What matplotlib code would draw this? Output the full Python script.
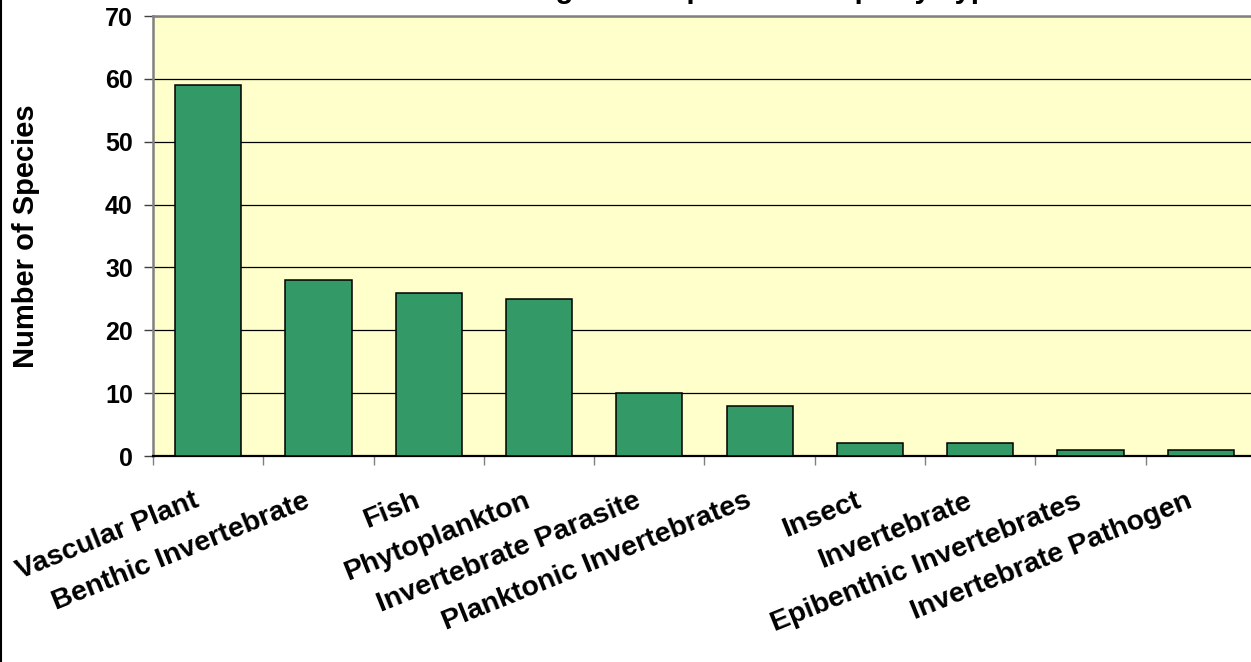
import matplotlib
matplotlib.use('Agg')
import matplotlib.pyplot as plt
import numpy as np
from matplotlib.lines import Line2D
from matplotlib.transforms import ScaledTranslation

plt.rcParams['font.family'] = ['Liberation Sans', 'DejaVu Sans']
plt.rcParams['font.weight'] = 'bold'

# data
categories = ['Vascular Plant', 'Benthic Invertebrate', 'Fish', 'Phytoplankton',
              'Invertebrate Parasite', 'Planktonic Invertebrates', 'Insect',
              'Invertebrate', 'Epibenthic Invertebrates', 'Invertebrate Pathogen']
counts = [59, 28, 26, 25, 10, 8, 2, 2, 1, 1]
yticks = [0, 10, 20, 30, 40, 50, 60, 70]
title = 'Nonindigenous Species Groups by Type'

fig = plt.figure(figsize=(12.51, 6.62), dpi=100)
ax = fig.add_axes([153 / 1251, 206 / 662, 1103 / 1251, 440 / 662])
ax.set_facecolor('#FFFFCC')

x = np.arange(len(categories))
ax.bar(x, counts, width=0.6, color='#339966', edgecolor='black', linewidth=1.1, zorder=3)

ax.set_xlim(-0.5, len(categories) - 0.5)
ax.set_ylim(0, 70)
ax.set_yticks(yticks)
ax.yaxis.grid(True, color='black', linewidth=0.9, zorder=1)
ax.set_axisbelow(True)

# category boundaries get the tick marks, labels sit at the centres
ax.set_xticks(x)
ax.set_xticks(np.arange(len(categories) + 1) - 0.5, minor=True)
ax.tick_params(axis='x', which='major', length=0, pad=23)
ax.tick_params(axis='x', which='minor', length=6.5, width=1.0, color='#808080', direction='out')
ax.tick_params(axis='y', length=6.5, width=1.0, color='#404040', direction='out',
               labelsize=18, pad=8)
ax.set_xticklabels(categories, rotation=22, ha='right', va='top', fontsize=20.5,
                   fontweight='bold')
shift = ScaledTranslation(-5 / 100, 0, fig.dpi_scale_trans)
for lab in ax.get_xticklabels():
    lab.set_transform(lab.get_transform() + shift)

for s in ['top', 'left']:
    ax.spines[s].set_color('#808080')
    ax.spines[s].set_linewidth(1.8)
ax.spines['right'].set_visible(False)
ax.spines['bottom'].set_color('black')
ax.spines['bottom'].set_linewidth(1.6)

ax.set_ylabel('Number of Species', fontsize=21, fontweight='bold')
ax.yaxis.set_label_coords(-0.102, 0.5)

# title sits above the visible area, only its descenders show (as in the reference)
fig.text(0.58, 1.003, title, ha='center', va='baseline', fontsize=21, fontweight='bold')

# left frame line of the chart area
fig.add_artist(Line2D([0.0008, 0.0008], [0, 1], transform=fig.transFigure,
                      color='black', linewidth=1.5))

fig.savefig('out.png', dpi=100)
